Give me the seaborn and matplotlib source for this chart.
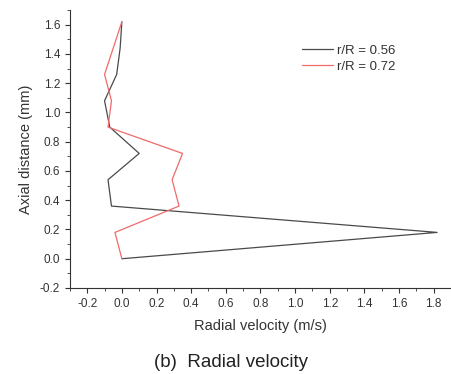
"""
Radial velocity profile (b) — r/R = 0.56 / 0.72
"""
import numpy as np
import pandas as pd
import matplotlib
matplotlib.use("Agg")
import matplotlib.pyplot as plt
from matplotlib.ticker import MultipleLocator
import seaborn as sns

# data ----------------------------------------------------------------
axial_mm = [0.0, 0.18, 0.36, 0.54, 0.72, 0.90, 1.08, 1.26, 1.44, 1.62]
vel_056 = [0.0, 1.82, -0.06, -0.08, 0.10, -0.07, -0.10, -0.03, -0.01, 0.0]
vel_072 = [0.0, -0.04, 0.33, 0.29, 0.35, -0.08, -0.06, -0.10, -0.05, 0.0]
labels = ["r/R = 0.56", "r/R = 0.72"]
colors = ["#4a4a4a", "#f06a6a"]

df = pd.DataFrame({
    "axial": axial_mm * 2,
    "vel": vel_056 + vel_072,
    "case": [labels[0]] * len(axial_mm) + [labels[1]] * len(axial_mm),
})

sns.set_style("ticks")
plt.rcParams["font.family"] = ["Liberation Sans", "DejaVu Sans"]

fig = plt.figure(figsize=(4.51, 3.74), dpi=100)
ax = fig.add_axes([0.155, 0.23, 0.845, 0.743])

sns.lineplot(data=df, x="vel", y="axial", hue="case", palette=colors,
             sort=False, estimator=None, units="case", lw=0.9, ax=ax)

ax.set_xlim(-0.3, 1.9)
ax.set_ylim(-0.2, 1.7)
ax.xaxis.set_minor_locator(MultipleLocator(0.1))
ax.yaxis.set_minor_locator(MultipleLocator(0.1))
ax.set_xticks(np.arange(-0.2, 1.81, 0.2))
ax.set_yticks(np.arange(-0.2, 1.61, 0.2))
ax.xaxis.set_major_formatter(plt.FormatStrFormatter("%.1f"))
ax.yaxis.set_major_formatter(plt.FormatStrFormatter("%.1f"))
ax.tick_params(which="major", length=3.5, width=0.8, labelsize=8.5,
               colors="#333333", direction="out")
ax.tick_params(which="minor", length=2, width=0.6, colors="#333333",
               direction="out")
for s in ["top", "right"]:
    ax.spines[s].set_visible(False)
for s in ["left", "bottom"]:
    ax.spines[s].set_color("#333333")
    ax.spines[s].set_linewidth(0.8)

ax.set_xlabel("Radial velocity (m/s)", fontsize=10.5, color="#333333",
              labelpad=7)
ax.set_ylabel("Axial distance (mm)", fontsize=10.5, color="#333333",
              labelpad=5)

leg = ax.legend(loc="upper left", bbox_to_anchor=(0.61, 0.875), frameon=False,
                fontsize=9.5, handlelength=2.3, handletextpad=0.35,
                labelspacing=0.25, borderpad=0, borderaxespad=0)
for t in leg.get_texts():
    t.set_color("#333333")

fig.text(0.512, 0.02, "(b)  Radial velocity", ha="center", fontsize=13.5,
         color="#222222")

fig.savefig("out.png", dpi=100)
plt.close(fig)
